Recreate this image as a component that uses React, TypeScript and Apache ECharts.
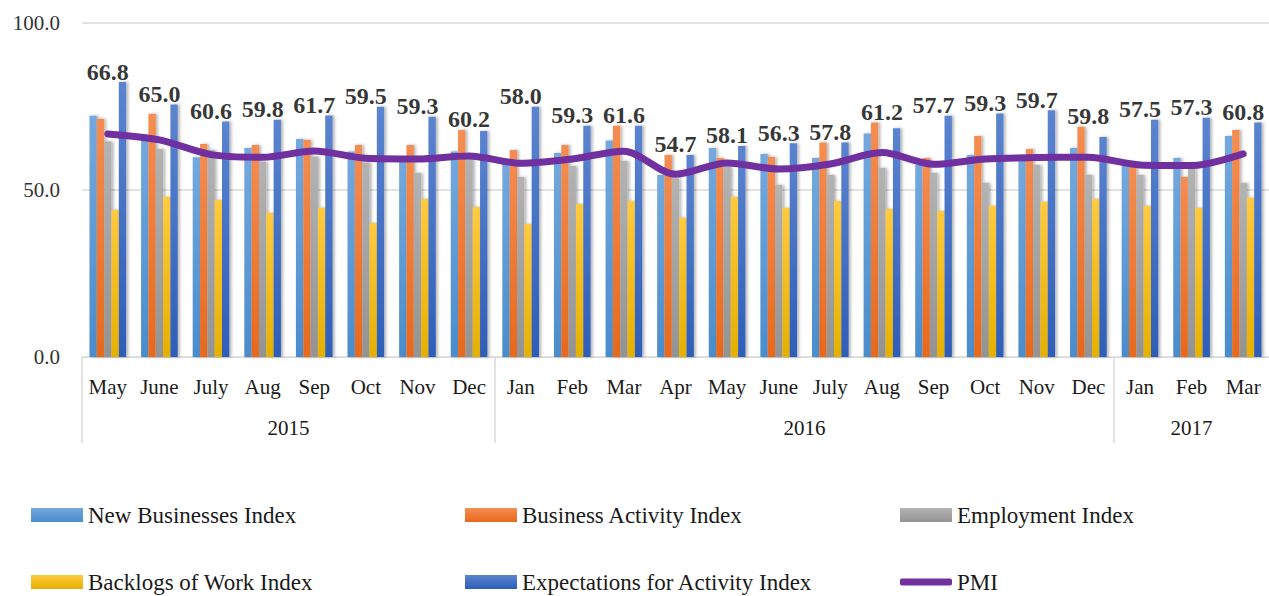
import React, { useEffect, useRef } from "react";
import * as echarts from "echarts";

const months = ["May", "June", "July", "Aug", "Sep", "Oct", "Nov", "Dec", "Jan", "Feb", "Mar", "Apr", "May", "June", "July", "Aug", "Sep", "Oct", "Nov", "Dec", "Jan", "Feb", "Mar"];
const years = ["2015", "2016", "2017"];
const yearCounts = [8, 12, 3];

const newBusinesses = [72.2, 66.5, 59.8, 62.6, 65.3, 61.5, 58.5, 61.5, 59.0, 61.1, 64.8, 54.5, 62.6, 60.8, 59.6, 66.9, 57.5, 60.5, 59.0, 62.6, 57.5, 59.6, 66.2];
const businessActivity = [71.3, 72.8, 63.8, 63.5, 65.0, 63.5, 63.5, 68.0, 62.0, 63.5, 69.2, 60.5, 59.6, 59.9, 64.2, 70.2, 59.6, 66.2, 62.3, 68.9, 57.0, 53.9, 68.0];
const employment = [64.5, 62.3, 62.0, 58.5, 60.0, 58.2, 55.1, 59.8, 53.9, 57.2, 58.7, 53.5, 57.0, 51.5, 54.5, 56.6, 55.1, 52.1, 57.5, 54.5, 54.5, 57.0, 52.1];
const backlogs = [44.0, 48.0, 47.0, 43.2, 44.7, 40.1, 47.3, 44.9, 39.8, 45.8, 46.7, 41.7, 48.0, 44.7, 46.7, 44.3, 43.7, 45.3, 46.4, 47.3, 45.2, 44.6, 47.7];
const expectations = [82.3, 75.6, 70.5, 71.0, 72.3, 74.9, 71.9, 67.7, 74.9, 69.2, 69.2, 60.5, 63.2, 64.0, 64.2, 68.5, 72.2, 72.9, 73.9, 65.9, 71.0, 71.6, 70.2];
const pmi = [66.8, 65.0, 60.6, 59.8, 61.7, 59.5, 59.3, 60.2, 58.0, 59.3, 61.6, 54.7, 58.1, 56.3, 57.8, 61.2, 57.7, 59.3, 59.7, 59.8, 57.5, 57.3, 60.8];

const seriesNames = [
  "New Businesses Index",
  "Business Activity Index",
  "Employment Index",
  "Backlogs of Work Index",
  "Expectations for Activity Index",
  "PMI",
];

const FONT = "Liberation Serif";

const grad = (top: string, bottom: string) =>
  new echarts.graphic.LinearGradient(0, 0, 0, 1, [
    { offset: 0, color: top },
    { offset: 1, color: bottom },
  ]);

export default function App() {
  const ref = useRef<HTMLDivElement>(null);

  useEffect(() => {
    document.body.style.margin = "0";
    if (!ref.current) return;
    const chart = echarts.init(ref.current, undefined, { renderer: "svg" });

    const boundaries: number[] = [];
    const centers: number[] = [];
    let acc = 0;
    yearCounts.forEach((c) => {
      boundaries.push(acc);
      centers.push(acc + c / 2);
      acc += c;
    });

    const labelAnchor = months.map((_, i) =>
      Math.max(newBusinesses[i], businessActivity[i], employment[i], backlogs[i], expectations[i])
    );

    const barShadow = {
      shadowBlur: 3,
      shadowOffsetX: 2,
      shadowColor: "rgba(0,0,0,0.3)",
    };

    const bar = (name: string, data: number[], top: string, bottom: string) => ({
      name,
      type: "bar",
      data,
      barGap: "0%",
      barCategoryGap: "29%",
      itemStyle: { color: grad(top, bottom), ...barShadow },
    });

    const colLeft = [31, 465, 900];
    const rowCenter = [515, 582];
    const legends = seriesNames.map((name, i) => {
      const col = i % 3;
      const row = Math.floor(i / 3);
      const isLine = name === "PMI";
      return {
        left: colLeft[col],
        top: rowCenter[row] - 17,
        padding: 0,
        itemWidth: 52,
        itemHeight: isLine ? 7 : 14,
        data: [{ name, icon: isLine ? "roundRect" : "rect" }],
        textStyle: { fontFamily: FONT, fontSize: 23, color: "#1a1a1a", lineHeight: 34 },
      };
    });

    chart.setOption({
      animation: false,
      backgroundColor: "#ffffff",
      grid: { left: 82, right: 0, top: 23, height: 334 },
      legend: legends,
      xAxis: [
        {
          type: "category",
          data: months,
          axisLine: { lineStyle: { color: "#d9d9d9", width: 1 } },
          axisTick: { show: false },
          axisLabel: { fontFamily: FONT, fontSize: 21, color: "#1a1a1a", margin: 19, interval: 0 },
        },
        {
          type: "value",
          position: "bottom",
          min: 0,
          max: months.length,
          axisLine: { show: false },
          splitLine: { show: false },
          axisTick: {
            show: true,
            customValues: boundaries,
            length: 86,
            lineStyle: { color: "#d9d9d9", width: 1.5 },
          },
          axisLabel: {
            customValues: centers,
            margin: 60,
            fontFamily: FONT,
            fontSize: 21,
            color: "#1a1a1a",
            formatter: (v: number) => {
              const idx = centers.findIndex((c) => Math.abs(c - v) < 1e-6);
              return idx >= 0 ? years[idx] : "";
            },
          },
        },
      ],
      yAxis: {
        type: "value",
        min: 0,
        max: 100,
        interval: 50,
        axisLine: { show: false },
        axisTick: { show: false },
        splitLine: { lineStyle: { color: "#d9d9d9", width: 1.5 } },
        axisLabel: {
          fontFamily: FONT,
          fontSize: 21,
          color: "#333333",
          margin: 22,
          formatter: (v: number) => v.toFixed(1),
        },
      },
      series: [
        bar(seriesNames[0], newBusinesses, "#74a9de", "#4a8ccc"),
        bar(seriesNames[1], businessActivity, "#f58d52", "#e8691c"),
        bar(seriesNames[2], employment, "#b3b3b3", "#939393"),
        bar(seriesNames[3], backlogs, "#ffca40", "#e6b000"),
        bar(seriesNames[4], expectations, "#5b84d0", "#2e5eb8"),
        {
          name: seriesNames[5],
          type: "line",
          data: pmi,
          smooth: 0.3,
          symbol: "none",
          z: 5,
          lineStyle: { color: "#7030a0", width: 7, cap: "round", join: "round" },
          itemStyle: { color: "#7030a0" },
        },
        {
          name: "pmiLabels",
          type: "scatter",
          data: labelAnchor,
          symbolSize: 1,
          z: 10,
          itemStyle: { color: "rgba(0,0,0,0)" },
          label: {
            show: true,
            position: "top",
            distance: -2,
            fontFamily: FONT,
            fontSize: 24,
            fontWeight: "bold",
            color: "#000000",
            formatter: (p: any) => pmi[p.dataIndex].toFixed(1),
          },
        },
      ],
    });

    return () => chart.dispose();
  }, []);

  return <div ref={ref} style={{ width: 1269, height: 596 }} />;
}
